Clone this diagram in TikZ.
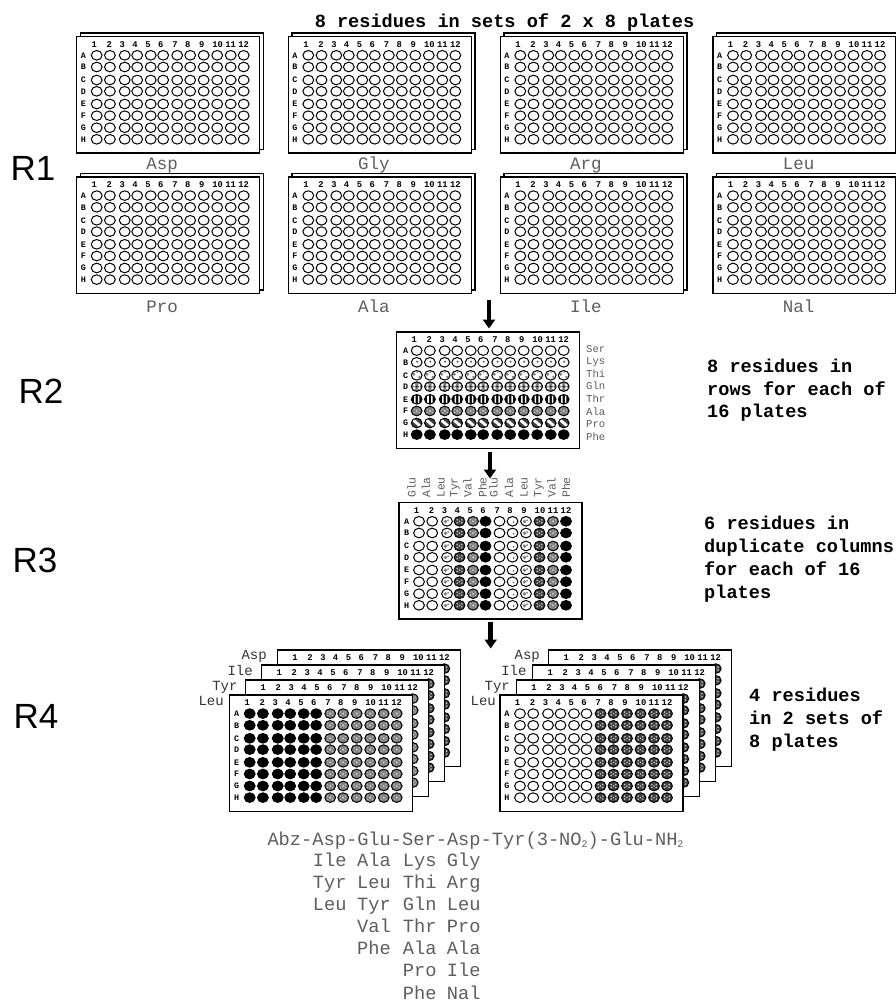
\documentclass[tikz,border=0pt]{standalone}
\usepackage{fontspec}
\setmainfont{Liberation Sans}
\setmonofont{Liberation Mono}
\usetikzlibrary{arrows.meta}
\definecolor{lbl}{HTML}{5E5E5E}
\definecolor{lbldk}{HTML}{333333}
\definecolor{wgray}{HTML}{808080}
\definecolor{wlite}{HTML}{C8C8C8}
\definecolor{wdark}{HTML}{404040}
\tikzset{
  x=1pt,y=-1pt,
  plateframe/.style={draw=black,fill=white,line width=1.5pt,anchor=north west,inner sep=0pt,minimum width=183pt,minimum height=116.5pt,outer sep=0pt},
  wellline/.style={draw=black,line width=1pt},
  colnum/.style={font=\ttfamily\bfseries\fontsize{8.8}{9}\selectfont,inner sep=0pt,text=black},
  rowlet/.style={font=\ttfamily\bfseries\fontsize{8.4}{9}\selectfont,inner sep=0pt,text=black},
  platename/.style={font=\ttfamily\fontsize{17.5}{18}\selectfont,inner sep=0pt,text=lbl,anchor=mid,yshift=-3pt},
  sidename/.style={font=\ttfamily\fontsize{10.6}{11}\selectfont,inner sep=0pt,text=lbl,anchor=mid west},
  topname/.style={font=\ttfamily\fontsize{11.4}{12}\selectfont,inner sep=0pt,text=lbl,rotate=90,anchor=mid west},
  stackname/.style={font=\ttfamily\fontsize{14}{15}\selectfont,inner sep=0pt,text=lbldk,anchor=mid east,yshift=-2pt},
  note/.style={font=\ttfamily\bfseries\fontsize{18.6}{20}\selectfont,inner sep=0pt,text=black,anchor=mid west,yshift=-4pt},
  round/.style={font=\fontsize{35}{37}\selectfont,inner sep=0pt,text=black},
  seq/.style={font=\ttfamily\fontsize{18.7}{20}\selectfont,inner sep=0pt,text=lbl,anchor=mid west,yshift=-3pt},
  flow/.style={line width=4.5pt,-{Triangle[length=9pt,width=12pt]},black},
}
\def\wshape{(0,0) ellipse [x radius=5.4pt,y radius=4.8pt]}
\newcommand\wello{\path[wellline,fill=white] \wshape;}
\newcommand\wellk{\path[wellline,fill=black] \wshape;}
\newcommand\wellg{\path[wellline,fill=wgray] \wshape;\fill[wlite] (0,0) circle (1.2pt) (-2.5,-1.7) circle (0.7pt) (2.5,-1.7) circle (0.7pt) (-2.5,1.7) circle (0.7pt) (2.5,1.7) circle (0.7pt);}
\newcommand\wellx{\path[wellline,fill=wdark] \wshape;
  \fill[wlite] (-2.3,-1.5) circle (0.9pt) (2.3,-1.5) circle (0.9pt) (-2.3,1.5) circle (0.9pt) (2.3,1.5) circle (0.9pt) (0,0) circle (0.8pt);}
\newcommand\welld{\path[wellline,fill=white] \wshape;\fill[wgray!70!black] (-1,-0.3) circle (1pt);}
\newcommand\welle{\path[wellline,fill=white] \wshape;\fill[wgray!70!black] (1,0.8) circle (0.9pt);}
\newcommand\wellf{\path[wellline,fill=white] \wshape;\fill[wgray] (-1.6,0.2) circle (1.9pt) (1.1,-1) circle (1pt);}
\newcommand\wellb{\path[wellline,fill=white] \wshape;\fill[wgray!70!black] (0.4,-0.6) circle (1.1pt);}
\newcommand\wellc{\path[wellline,fill=white] \wshape;\fill[wgray] (-3,-1) circle (1.6pt) (2.8,1.7) circle (1.4pt) (0.4,-3.2) circle (1pt);}
\newcommand\wellp{\path[wellline,fill=wgray] \wshape;\fill[white] (-2.5,-1.6) circle (1.35pt) (2.5,-1.6) circle (1.35pt) (-2.5,1.6) circle (1.35pt) (2.5,1.6) circle (1.35pt);\fill[black] (0,0) circle (0.9pt);}
\newcommand\wellv{\begin{scope}\clip \wshape;\fill[black] (-6,-6) rectangle (6,6);\fill[white] (-2.7,-6) rectangle (-1.1,6) (1.1,-6) rectangle (2.7,6);\end{scope}\path[wellline] \wshape;}
\newcommand\wellq{\begin{scope}\clip \wshape;\fill[wdark] (-6,-6) rectangle (6,6);\draw[white,line width=2.8pt] (-4,-3.4) -- (4,3.4);\end{scope}\path[wellline] \wshape;}
\def\wellxs{20,33.2,48,60.5,74,86.5,100.5,113.5,127,140.5,154,167}
\def\wellys{18.6,30.3,43.3,54.6,67.3,79,91,102.6}
\def\numxs{17.6,32.6,45.6,58.3,71.3,84,98.3,111,125,141,154,167}
% \plateat{name}{x}{y}{letter x}  uses \getkind (sets \k from \c,\r)
\newcommand\plateat[4]{%
  \node[plateframe] (#1) at (#2,#3) {};
  \begin{scope}[shift={(#2,#3)}]
    \foreach \nx [count=\i] in \numxs {\node[colnum] (#1n\i) at (\nx,8) {\i};}
    \foreach \yy [count=\j] in \wellys {
      \pgfmathsetmacro\lett{{"A","B","C","D","E","F","G","H"}[\j-1]}
      \node[rowlet] (#1l\j) at (#4,\yy) {\lett};
    }
    \foreach \yy [count=\r] in \wellys {
      \foreach \xx [count=\c] in \wellxs {
        \begin{scope}[shift={(\xx,\yy)}]
          \getkind
          \csname well\k\endcsname
        \end{scope}
      }
    }
  \end{scope}}
% back plate of an R4 stack: only the wells of column 12 can be seen
\newcommand\backplate[4]{%
  \node[plateframe] (#1) at (#2,#3) {};
  \begin{scope}[shift={(#2,#3)}]
    \foreach \nx [count=\i] in \numxs {\node[colnum] (#1n\i) at (\nx,8) {\i};}
    \foreach \yy in \wellys {
      \begin{scope}[shift={(167,\yy)}]\csname well#4\endcsname\end{scope}
    }
  \end{scope}}
\newcommand\doubleplate[4]{%
  \node[plateframe] (#1b) at (#2+3.7,#3-3.6) {};
  \def\getkind{\def\k{o}}%
  \plateat{#1}{#2}{#3}{6.6}
  \node[platename] (#1t) at (#2+85.5,#3+#4) {#1};}
\begin{document}
\begin{tikzpicture}
\useasboundingbox (0,0) rectangle (896,1003);
\fill[white] (0,0) rectangle (896,1003);

\node[note,anchor=mid] (title) at (504.5,21) {8 residues in sets of 2 x 8 plates};

% R1
\doubleplate{Asp}{76.7}{36.7}{127.5}
\doubleplate{Gly}{288.3}{36.7}{127.5}
\doubleplate{Arg}{500.3}{36.7}{127.5}
\doubleplate{Leu}{713}{36.7}{127.5}
\doubleplate{Pro}{76.7}{177}{130}
\doubleplate{Ala}{288.3}{177}{130}
\doubleplate{Ile}{500.3}{177}{130}
\doubleplate{Nal}{713}{177}{130}
\node[round] (r1) at (33,168.5) {R1};
\node[round] (r2) at (41,391) {R2};
\node[round] (r3) at (35,560) {R3};
\node[round] (r4) at (36,716) {R4};

% R2
\def\getkind{\ifcase\r\or\def\k{o}\or\def\k{b}\or\def\k{c}\or\def\k{p}\or\def\k{v}\or\def\k{g}\or\def\k{q}\or\def\k{k}\fi}
\plateat{pa}{396.7}{332}{9}
\foreach \t/\yy [count=\i] in {Ser/349.7,Lys/362,Thi/374.5,Gln/387,Thr/399.5,Ala/412.5,Pro/425,Phe/437.5}
  \node[sidename] (pas\i) at (586,\yy) {\t};

% R3
\def\getkind{\ifcase\c\or\def\k{o}\or\def\k{o}\or\def\k{f}\or\def\k{x}\or\def\k{g}\or\def\k{k}\or\def\k{o}\or\def\k{e}\or\def\k{f}\or\def\k{x}\or\def\k{g}\or\def\k{k}\fi}
\plateat{pb}{399}{502.7}{7.7}
\foreach \t/\xx [count=\i] in {Glu/413,Ala/427.5,Leu/442,Tyr/455,Val/469,Phe/484,Glu/495,Ala/510.5,Leu/525,Tyr/539,Val/553,Phe/567.5}
  \node[topname] (pbt\i) at (\xx,498) {\t};

% R4 left
\backplate{la}{277.3}{650}{x}
\backplate{lb}{261.7}{665}{x}
\backplate{lc}{245.7}{680}{g}
\def\getkind{\ifnum\c<7 \def\k{k}\else\def\k{g}\fi}
\plateat{ld}{229.7}{695}{7}
\node[stackname] (la1) at (267,655) {Asp};
\node[stackname] (lb1) at (253,671) {Ile};
\node[stackname] (lc1) at (237.7,685.5) {Tyr};
\node[stackname] (ld1) at (224,701) {Leu};

% R4 right
\backplate{ra}{548.7}{650}{x}
\backplate{rb}{532.7}{665}{x}
\backplate{rc}{516.3}{680}{x}
\def\getkind{\ifnum\c<7 \def\k{o}\else\def\k{x}\fi}
\plateat{rd}{500}{695}{7}
\node[stackname] (ra1) at (540,655) {Asp};
\node[stackname] (rb1) at (526.7,671) {Ile};
\node[stackname] (rc1) at (510,685.5) {Tyr};
\node[stackname] (rd1) at (496,701) {Leu};

% arrows
\coordinate (f1s) at (489,300);\coordinate (f1e) at (489,328.5);
\coordinate (f2s) at (490,451.5);\coordinate (f2e) at (490,478.5);
\coordinate (f3s) at (490.7,622);\coordinate (f3e) at (490.7,648.5);
\draw[flow] (f1s) -- (f1e);
\draw[flow] (f2s) -- (f2e);
\draw[flow] (f3s) -- (f3e);

% notes
\node[note] (n21) at (707,366) {8 residues in};
\node[note] (n22) at (707,388.5) {rows for each of};
\node[note] (n23) at (707,411) {16 plates};
\node[note] (n31) at (704,523) {6 residues in};
\node[note] (n32) at (704,546) {duplicate columns};
\node[note] (n33) at (704,569) {for each of 16};
\node[note] (n34) at (704,592) {plates};
\node[note] (n41) at (749,695) {4 residues};
\node[note] (n42) at (749,718) {in 2 sets of};
\node[note] (n43) at (749,741) {8 plates};

% sequence
\node[seq] (s0) at (267.3,840) {Abz-Asp-Glu-Ser-Asp-Tyr(3-NO\raisebox{-2pt}{\fontsize{10}{10}\selectfont 2})-Glu-NH\raisebox{-2pt}{\fontsize{10}{10}\selectfont 2}};
\foreach \t/\xx/\yy [count=\i] in {Ile/312.7/861,Ala/357/861,Lys/402.7/861,Gly/446.7/861,
  Tyr/312.7/883,Leu/357/883,Thi/402.7/883,Arg/446.7/883,
  Leu/312.7/905,Tyr/357/905,Gln/402.7/905,Leu/446.7/905,
  Val/357/927,Thr/402.7/927,Pro/446.7/927,
  Phe/357/949,Ala/402.7/949,Ala/446.7/949,
  Pro/402.7/971,Ile/446.7/971,
  Phe/402.7/993.5,Nal/446.7/993.5}
  \node[seq] (s\i) at (\xx,\yy) {\t};
\end{tikzpicture}
\end{document}
